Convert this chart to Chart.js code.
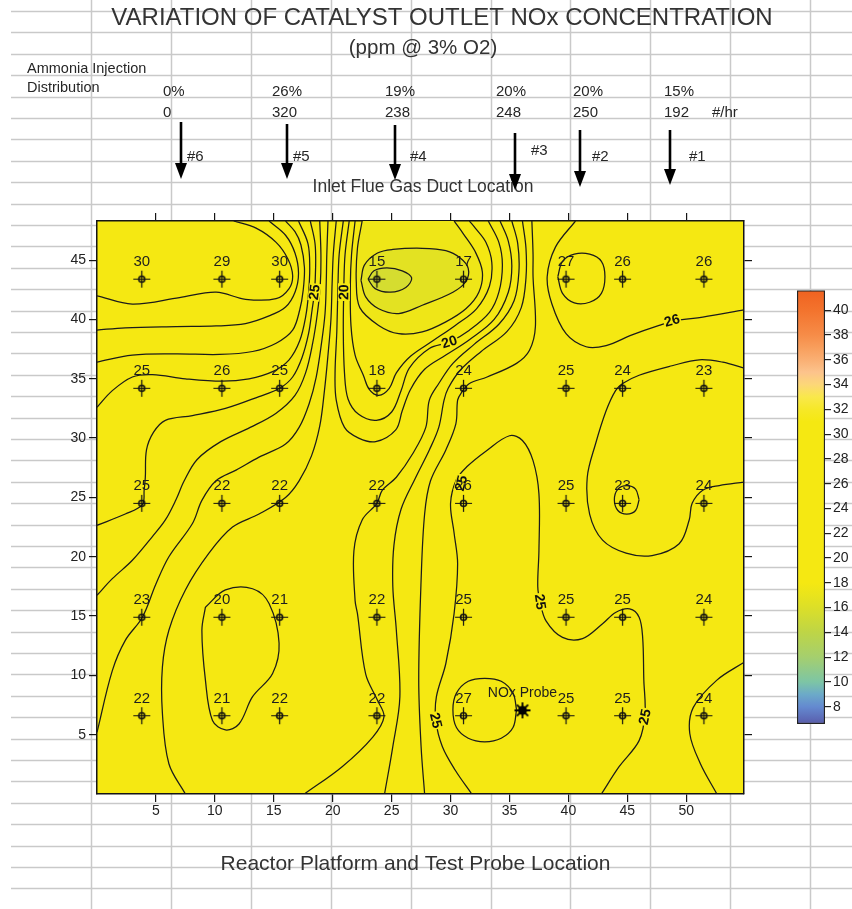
<!DOCTYPE html>
<html>
<head>
<meta charset="utf-8">
<script src="https://cdn.jsdelivr.net/npm/chart.js@4.4.1/dist/chart.umd.min.js"></script>
<style>
  html, body { margin: 0; padding: 0; background: #fff; }
  #wrap { position: relative; width: 852px; height: 909px; overflow: hidden; }
  #main { position: absolute; left: 0; top: 0; width: 852px; height: 909px; }
  #bar { position: absolute; left: 780px; top: 280px; width: 72px; height: 460px; }
</style>
</head>
<body>
<div id="wrap">
  <canvas id="main" width="852" height="909"></canvas>
  <canvas id="bar" width="72" height="460"></canvas>
</div>
<script>
// ---------- measured NOx values on the probe grid ----------
const probeX = [3.8, 10.6, 15.5, 23.75, 31.1, 39.8, 44.6, 51.5];
const probeY = [43.4, 34.2, 24.5, 14.9, 6.6];
const noxRow1 = [30, 29, 30, 15, 17, 27, 26, 26];
const noxRow2 = [25, 26, 25, 18, 24, 25, 24, 23];
const noxRow3 = [25, 22, 22, 22, 26, 25, 23, 24];
const noxRow4 = [23, 20, 21, 22, 25, 25, 25, 24];
const noxRow5 = [22, 21, 22, 22, 27, 25, 25, 24];
const noxRows = [noxRow1, noxRow2, noxRow3, noxRow4, noxRow5];
const noxProbe = [36.1, 7.05];

// ---------- axes ----------
const xRange = [0, 54.9];
const yRange = [0, 48.3];
const xTicks = [5, 10, 15, 20, 25, 30, 35, 40, 45, 50];
const yTicks = [5, 10, 15, 20, 25, 30, 35, 40, 45];
const barRange = [6.6, 41.6];
const barTicks = [8, 10, 12, 14, 16, 18, 20, 22, 24, 26, 28, 30, 32, 34, 36, 38, 40];

// ---------- ammonia injection lances ----------
const lanceNames = ['#6', '#5', '#4', '#3', '#2', '#1'];
const lancePct = ['0%', '26%', '19%', '20%', '20%', '15%'];
const lanceRate = ['0', '320', '238', '248', '250', '192'];
const lanceX = [7.1, 16.1, 25.3, 35.5, 41.0, 48.6];

// ---------- isolines (ppm), traced as x/y pairs ----------
const iso29 = [[0,42.0],[3.0,41.3],[7.0,41.85],[10.1,42.3],[12.6,41.7],[15.2,41.75],[16.3,42.6],[16.6,43.7],[16.2,45.1],[15.2,46.5],[13.5,47.7],[11.6,48.3]];
const iso28 = [[0,39.1],[2.4,39.3],[6.7,39.4],[10.1,39.45],[12.6,39.65],[14.6,40.3],[16.0,41.05],[16.8,42.3],[17.1,43.9],[16.8,45.6],[16.0,47.1],[14.6,48.3]];
const iso27a = [[0,36.4],[3.0,37.0],[6.7,37.1],[10.4,37.05],[13.2,37.3],[15.2,38.0],[16.6,39.1],[17.2,40.8],[17.5,42.5],[17.6,44.4],[17.3,46.3],[16.8,47.4],[16.0,48.3]];
const iso27b = [[39.1,43.6],[39.5,44.9],[40.5,45.5],[41.8,45.5],[42.8,44.9],[43.1,43.6],[42.8,42.2],[41.8,41.45],[40.5,41.4],[39.5,42.2],[39.1,43.6]];
const iso26a = [[0,32.6],[1.3,34.0],[3.0,35.15],[4.7,35.35],[7.5,35.0],[10.6,34.8],[12.9,35.0],[14.9,35.6],[16.3,36.6],[17.2,38.2],[17.7,40.2],[17.95,42.2],[18.05,44.4],[17.9,46.4],[17.1,48.3]];
const iso26b = [[40.6,48.3],[38.9,46.1],[38.2,43.6],[38.6,41.3],[39.8,38.8],[41.5,37.7],[43.2,37.8],[45.4,38.7],[47.7,39.5],[49.1,39.9],[51.4,40.2],[54.9,40.8]];
const iso26c = [[35.6,7.1],[35.3,8.5],[34.3,9.5],[32.9,9.75],[31.5,9.5],[30.5,8.5],[30.2,7.1],[30.5,5.6],[31.5,4.7],[32.9,4.4],[34.3,4.7],[35.3,5.6],[35.6,7.1]];
const iso25a = [[0,22.65],[2.4,23.6],[3.85,24.4],[4.0,25.6],[4.1,26.7],[4.2,29.0],[4.8,30.5],[5.8,31.5],[8.1,31.9],[10.9,32.5],[13.75,33.5],[15.5,34.2],[16.6,35.15],[17.4,36.8],[17.95,38.8],[18.25,40.8],[18.45,42.3],[18.55,44.4],[18.5,46.4],[18.1,48.3]];
const iso25b = [[31.8,0],[30.4,2.0],[29.3,4.0],[28.75,6.2],[28.8,8.2],[29.6,11.0],[30.3,15.2],[30.6,19.4],[30.3,22.0],[30.0,24.5],[30.5,26.5],[31.4,27.6],[33.0,28.9],[35.0,30.2],[36.1,29.8],[37.0,28.1],[37.5,25.3],[37.5,20.5],[37.4,17.5],[37.6,16.2],[38.1,14.6],[39.5,13.2],[41.2,13.1],[42.9,14.35],[44.0,15.3],[45.2,15.6],[46.0,14.9],[46.3,13.2],[46.4,9.6],[46.5,6.8],[46.0,4.5],[44.3,2.3],[42.8,0]];
const iso24a = [[0,16.75],[1.3,18.15],[3.0,19.7],[4.7,21.7],[5.8,23.1],[6.7,24.8],[7.4,26.4],[8.5,28.2],[10.5,29.7],[13.0,30.9],[15.2,32.1],[16.8,33.6],[17.7,35.5],[18.3,38.0],[18.7,40.5],[18.95,43.0],[19.0,45.5],[18.9,48.3]];
const iso24b = [[36.9,48.3],[37.0,45.5],[37.0,43.6],[37.2,39.4],[36.7,37.4],[35.6,36.3],[33.1,35.15],[31.6,34.6],[30.9,33.8],[30.6,33.2],[30.45,31.2],[29.6,29.0],[28.3,26.4],[27.8,23.6],[27.5,18.0],[27.3,9.6],[27.5,4.0],[27.8,0]];
const iso24c = [[54.9,35.9],[53.1,36.4],[51.1,36.6],[48.8,36.1],[46.0,35.3],[44.6,34.6],[44.0,34.0],[43.2,32.3],[42.3,29.5],[41.6,26.7],[41.8,23.6],[42.9,21.4],[44.9,20.3],[47.1,20.1],[49.4,21.1],[50.25,23.1],[50.5,24.5],[51.4,25.6],[52.8,26.0],[54.9,26.3]];
const iso24d = [[54.9,11.1],[52.6,9.6],[50.6,7.3],[50.3,5.1],[51.2,2.55],[52.6,0]];
const iso23a = [[0,5.2],[1.3,10.4],[2.4,12.95],[3.85,14.9],[5.0,17.7],[6.1,20.0],[8.1,22.8],[8.9,24.75],[10.1,26.4],[11.8,27.3],[13.75,28.4],[16.0,29.5],[17.15,30.9],[18.0,32.9],[18.6,35.15],[19.05,38.0],[19.35,40.5],[19.45,43.0],[19.5,45.5],[19.6,48.3]];
const iso23b = [[36.1,48.3],[36.4,46.0],[36.4,43.5],[36.0,41.0],[34.8,39.0],[32.6,37.3],[30.8,35.7],[29.8,34.2],[29.45,33.2],[29.0,30.9],[28.2,29.0],[27.0,26.6],[25.8,24.0],[25.2,21.0],[25.1,17.5],[25.4,13.8],[25.7,8.2],[25.1,4.0],[24.4,0]];
const iso23c = [[46.0,24.8],[45.7,25.7],[44.95,26.0],[44.2,25.7],[43.9,24.8],[44.2,23.9],[44.95,23.6],[45.7,23.9],[46.0,24.8]];
const iso22a = [[7.5,0],[6.1,2.55],[5.55,6.8],[5.55,10.7],[6.1,13.8],[7.5,17.2],[9.5,20.3],[11.5,22.5],[13.75,23.6],[16.0,25.0],[17.15,26.4],[18.2,28.5],[18.9,31.0],[19.3,34.0],[19.6,37.0],[19.85,40.0],[19.95,43.0],[20.05,45.5],[20.3,48.3]];
const iso22b = [[35.2,48.3],[35.7,46.4],[35.8,44.0],[35.4,41.6],[34.1,39.6],[32.0,37.9],[30.2,36.3],[29.0,34.6],[28.2,33.2],[27.9,30.9],[26.8,28.7],[25.4,26.7],[24.2,25.6],[23.75,24.5],[22.5,23.1],[21.8,20.5],[21.9,16.3],[22.1,15.2],[22.8,10.1],[23.8,7.9],[24.35,6.5],[23.4,4.8],[20.8,2.3],[17.6,0]];
const iso21a = [[9.2,15.75],[10.9,17.2],[13.2,17.3],[14.6,16.05],[15.45,12.7],[14.9,10.15],[13.2,8.2],[12.05,5.9],[10.9,5.4],[9.8,6.2],[9.2,9.6],[8.9,13.8],[9.2,15.75]];
const iso21b = [[20.9,48.3],[20.55,45.5],[20.45,43.0],[20.35,39.0],[20.2,35.5],[20.3,33.2],[21.0,30.9],[22.2,30.0],[23.65,29.7],[25.35,30.7],[25.9,32.3],[26.6,34.1],[27.8,35.8],[29.6,37.0],[31.6,38.3],[33.7,40.0],[34.9,42.3],[35.2,44.5],[34.9,46.6],[34.2,48.3]];
const iso20 = [[21.4,48.3],[21.05,45.5],[20.95,43.0],[20.9,39.0],[21.0,35.5],[21.3,33.3],[22.2,32.0],[23.7,31.5],[25.0,32.2],[25.8,34.0],[26.5,35.9],[28.2,37.55],[29.9,38.1],[31.6,39.1],[33.3,40.6],[34.1,42.3],[34.4,44.6],[34.1,46.5],[33.2,48.3]];
const iso19 = [[21.9,48.3],[21.6,45.5],[21.5,43.0],[21.55,39.5],[21.9,37.0],[22.6,35.3],[23.1,34.1],[23.9,33.6],[24.8,34.2],[25.4,35.5],[26.6,36.9],[28.5,38.2],[30.4,39.5],[32.2,40.9],[33.3,42.8],[33.5,44.8],[33.0,46.5],[32.1,47.7],[31.6,48.3]];
const iso18 = [[22.5,48.3],[22.1,46.0],[22.0,43.2],[22.3,41.0],[23.9,39.5],[25.6,38.8],[27.6,38.95],[29.6,39.8],[31.3,40.9],[32.4,42.3],[32.7,44.0],[32.1,45.7],[31.1,47.2],[30.3,48.3]];
const iso17 = [[22.4,43.3],[22.7,44.6],[23.8,45.6],[25.1,45.9],[27.6,46.0],[29.6,45.8],[30.8,45.2],[31.5,44.3],[31.3,43.2],[30.2,42.3],[27.6,41.2],[25.6,40.5],[23.9,40.9],[22.8,41.9],[22.4,43.3]];
const iso16 = [[23.0,43.4],[23.5,44.1],[24.6,44.35],[25.9,44.1],[26.7,43.5],[26.2,42.7],[24.9,42.3],[23.6,42.6],[23.0,43.4]];

// level of every traced line; closed lows are shaded from the colour scale
const isolines = [
  { level: 29, pts: iso29 }, { level: 28, pts: iso28 },
  { level: 27, pts: iso27a }, { level: 27, pts: iso27b },
  { level: 26, pts: iso26a }, { level: 26, pts: iso26b }, { level: 26, pts: iso26c },
  { level: 25, pts: iso25a }, { level: 25, pts: iso25b },
  { level: 24, pts: iso24a }, { level: 24, pts: iso24b }, { level: 24, pts: iso24c }, { level: 24, pts: iso24d },
  { level: 23, pts: iso23a }, { level: 23, pts: iso23b }, { level: 23, pts: iso23c },
  { level: 22, pts: iso22a }, { level: 22, pts: iso22b },
  { level: 21, pts: iso21a }, { level: 21, pts: iso21b },
  { level: 20, pts: iso20 }, { level: 19, pts: iso19 },
  { level: 18, pts: iso18, shadeLow: true },
  { level: 17, pts: iso17, shadeLow: true },
  { level: 16, pts: iso16, shadeLow: true }
];
// inline isoline labels: x, y, level
const isoLabels = [[18.45, 42.3, 25], [20.95, 42.3, 20], [29.9, 38.1, 20], [48.8, 39.9, 26], [30.9, 26.2, 25], [37.6, 16.2, 25], [28.75, 6.2, 25], [46.5, 6.5, 25]];

// ---------- colour scale ----------
const colorStops = [
  [6.6, [88, 90, 165]], [7, [92, 105, 182]], [8, [100, 138, 208]], [9, [108, 170, 200]],
  [10, [125, 197, 165]], [12, [165, 207, 110]], [14, [190, 213, 70]], [15, [205, 218, 55]],
  [16, [220, 223, 40]], [17, [233, 228, 28]], [18, [245, 232, 18]], [31, [245, 232, 18]],
  [32, [246, 232, 40]], [33, [249, 232, 75]], [34, [252, 215, 120]], [35, [252, 195, 140]],
  [36, [250, 175, 115]], [37, [248, 158, 92]], [38, [246, 140, 72]], [40, [243, 115, 45]],
  [41.6, [240, 98, 32]]
];
function colorAt(v) {
  for (let i = 1; i < colorStops.length; i++) {
    const [v1, c1] = colorStops[i];
    const [v0, c0] = colorStops[i - 1];
    if (v <= v1) {
      const t = (v - v0) / (v1 - v0);
      const c = c0.map((a, k) => Math.round(a + (c1[k] - a) * t));
      return `rgb(${c[0]},${c[1]},${c[2]})`;
    }
  }
  const c = colorStops[colorStops.length - 1][1];
  return `rgb(${c[0]},${c[1]},${c[2]})`;
}

// ---------- texts ----------
const FONT = "'Liberation Sans', Arial, Helvetica, sans-serif";
const titleText = 'VARIATION OF CATALYST OUTLET NOx CONCENTRATION';
const subtitleText = '(ppm @ 3% O2)';
const injectionText = ['Ammonia Injection', 'Distribution'];
const ductText = 'Inlet Flue Gas Duct Location';
const platformText = 'Reactor Platform and Test Probe Location';
const probeText = 'NOx Probe';
const rateUnit = '#/hr';

// ---------- page layout (pixels) ----------
const sheet = { left: 11, top: 11, rowH: 21.4, colStart: 91, colW: 79.9, color: '#c9c9c9' };
const plotYellow = colorAt(24);
const pctLeft = [163, 272, 385, 496, 573, 664];
const arrowTop = [122, 124, 125, 133, 130, 130];
const arrowTip = [179, 179, 180, 190, 187, 185];
const lanceLabelLeft = [187, 293, 410, 531, 592, 689];
const lanceLabelY = [157, 157, 157, 151, 157, 157];

Chart.defaults.font.family = FONT;
Chart.defaults.color = '#222';

function probeMarker() {
  const cv = document.createElement('canvas');
  cv.width = 19; cv.height = 19;
  const g = cv.getContext('2d');
  g.strokeStyle = '#111';
  g.lineWidth = 1.2;
  g.beginPath();
  g.moveTo(1, 9.5); g.lineTo(18, 9.5);
  g.moveTo(9.5, 1); g.lineTo(9.5, 18);
  g.stroke();
  g.lineWidth = 1.6;
  g.beginPath(); g.arc(9.5, 9.5, 3.0, 0, Math.PI * 2); g.stroke();
  return cv;
}
function starMarker() {
  const cv = document.createElement('canvas');
  cv.width = 18; cv.height = 18;
  const g = cv.getContext('2d');
  g.strokeStyle = '#000'; g.fillStyle = '#000'; g.lineWidth = 1.8;
  g.beginPath();
  for (let k = 0; k < 8; k++) {
    const a = k * Math.PI / 4;
    g.moveTo(9, 9); g.lineTo(9 + 8 * Math.cos(a), 9 + 8 * Math.sin(a));
  }
  g.stroke();
  g.beginPath(); g.arc(9, 9, 4.5, 0, Math.PI * 2); g.fill();
  return cv;
}

const probePoints = [];
const probeValues = [];
noxRows.forEach((row, r) => row.forEach((v, c) => {
  probePoints.push({ x: probeX[c], y: probeY[r] });
  probeValues.push(v);
}));

// lower "order" is drawn later (on top); outer low-value shells are drawn first
const datasets = [
  { label: 'probe', data: probePoints, pointStyle: probeMarker(), pointRadius: 9, showLine: false, order: 0 },
  { label: 'nox probe', data: [{ x: noxProbe[0], y: noxProbe[1] }], pointStyle: starMarker(), pointRadius: 9, showLine: false, order: 0 }
];
isolines.forEach((line) => {
  datasets.push({
    label: 'iso' + line.level,
    data: line.pts.map(([x, y]) => ({ x, y })),
    showLine: true,
    pointRadius: 0,
    borderColor: '#1b1b1b',
    borderWidth: 1.25,
    tension: 0.35,
    fill: line.shadeLow ? 'shape' : false,
    backgroundColor: line.shadeLow ? colorAt(line.level - 0.5) : 'transparent',
    order: line.shadeLow ? 100 + line.level : 10
  });
});

function toPx(chart, x, y) {
  return [chart.scales.x.getPixelForValue(x), chart.scales.y.getPixelForValue(y)];
}

const sheetPlugin = {
  id: 'sheet',
  beforeDraw(chart) {
    const c = chart.ctx, a = chart.chartArea;
    c.save();
    c.fillStyle = '#fff';
    c.fillRect(0, 0, chart.width, chart.height);
    c.strokeStyle = sheet.color;
    c.lineWidth = 1.5;
    c.beginPath();
    for (let y = sheet.top; y < chart.height; y += sheet.rowH) {
      c.moveTo(sheet.left, Math.round(y) + 0.5); c.lineTo(chart.width, Math.round(y) + 0.5);
    }
    for (let x = sheet.colStart; x < chart.width; x += sheet.colW) {
      c.moveTo(Math.round(x) + 0.5, 0); c.lineTo(Math.round(x) + 0.5, chart.height);
    }
    c.stroke();
    c.fillStyle = plotYellow;
    c.fillRect(a.left, a.top, a.right - a.left, a.bottom - a.top);
    c.restore();
  }
};

const labelPlugin = {
  id: 'labels',
  afterDatasetsDraw(chart) {
    const c = chart.ctx;
    c.save();
    // isoline labels, turned along their line
    c.font = `bold 14px ${FONT}`;
    c.textAlign = 'center';
    c.textBaseline = 'middle';
    isoLabels.forEach(([lx, ly, lev]) => {
      const [px, py] = toPx(chart, lx, ly);
      let best = null, bestD = Infinity;
      isolines.filter(l => l.level === lev).forEach(l => {
        for (let i = 0; i < l.pts.length - 1; i++) {
          const [ax, ay] = toPx(chart, l.pts[i][0], l.pts[i][1]);
          const [bx, by] = toPx(chart, l.pts[i + 1][0], l.pts[i + 1][1]);
          const dx = bx - ax, dy = by - ay;
          const t = Math.max(0, Math.min(1, ((px - ax) * dx + (py - ay) * dy) / (dx * dx + dy * dy)));
          const d = (ax + t * dx - px) ** 2 + (ay + t * dy - py) ** 2;
          if (d < bestD) { bestD = d; best = [dx, dy]; }
        }
      });
      let ang = Math.atan2(best[1], best[0]);
      if (ang > Math.PI / 2) ang -= Math.PI;
      if (ang < -Math.PI / 2) ang += Math.PI;
      c.save();
      c.translate(px, py);
      c.rotate(ang);
      const w = c.measureText(String(lev)).width;
      c.fillStyle = plotYellow;
      c.fillRect(-w / 2 - 1, -6, w + 2, 12);
      c.fillStyle = '#111';
      c.fillText(String(lev), 0, 0.5);
      c.restore();
    });
    // probe readings
    c.font = `15px ${FONT}`;
    c.fillStyle = '#1e1e1e';
    probePoints.forEach((p, i) => {
      const [px, py] = toPx(chart, p.x, p.y);
      c.fillText(String(probeValues[i]), px, py - 17);
    });
    const [qx, qy] = toPx(chart, noxProbe[0], noxProbe[1]);
    c.font = `14px ${FONT}`;
    c.fillText(probeText, qx, qy - 17);
    c.restore();
  }
};

const headerPlugin = {
  id: 'header',
  afterDraw(chart) {
    const c = chart.ctx;
    c.save();
    c.fillStyle = '#333';
    c.textBaseline = 'middle';
    c.textAlign = 'center';
    c.font = `24px ${FONT}`;
    c.fillText(titleText, 442, 18.5);
    c.font = `20.5px ${FONT}`;
    c.fillText(subtitleText, 423, 48.5);
    c.font = `17.5px ${FONT}`;
    c.fillText(ductText, 423, 187);
    c.font = `21px ${FONT}`;
    c.fillText(platformText, 415.5, 864);
    c.textAlign = 'left';
    c.fillStyle = '#262626';
    c.font = `14.5px ${FONT}`;
    c.fillText(injectionText[0], 27, 69);
    c.fillText(injectionText[1], 27, 88);
    c.font = `15px ${FONT}`;
    lanceNames.forEach((name, i) => {
      c.fillText(lancePct[i], pctLeft[i], 92);
      c.fillText(lanceRate[i], pctLeft[i], 113);
      c.fillText(name, lanceLabelLeft[i], lanceLabelY[i]);
      const ax = Math.round(chart.scales.x.getPixelForValue(lanceX[i]));
      c.strokeStyle = '#000';
      c.lineWidth = 2.6;
      c.beginPath();
      c.moveTo(ax, arrowTop[i]);
      c.lineTo(ax, arrowTip[i] - 12);
      c.stroke();
      c.fillStyle = '#000';
      c.beginPath();
      c.moveTo(ax - 6, arrowTip[i] - 16);
      c.lineTo(ax + 6, arrowTip[i] - 16);
      c.lineTo(ax, arrowTip[i]);
      c.closePath();
      c.fill();
      c.fillStyle = '#262626';
    });
    c.fillText(rateUnit, 712, 113);
    c.restore();
  }
};

const edge = { color: '#151515', width: 1.5 };
function axisCommon(pos, ticks, range, size, showLabels) {
  const horizontal = pos === 'top' || pos === 'bottom';
  return {
    type: 'linear',
    position: pos,
    min: range[0],
    max: range[1],
    afterBuildTicks: (a) => { a.ticks = ticks.map(v => ({ value: v })); },
    afterFit: (s) => { if (horizontal) s.height = size; else s.width = size; },
    grid: { drawOnChartArea: false, drawTicks: true, tickLength: 8, color: '#151515', lineWidth: 1.2 },
    border: { display: true, color: edge.color, width: edge.width },
    ticks: { display: showLabels, padding: horizontal ? 1 : 3, font: { size: 14, family: FONT }, color: '#222', maxRotation: 0, autoSkip: false }
  };
}

new Chart(document.getElementById('main'), {
  type: 'scatter',
  data: { datasets },
  options: {
    responsive: false,
    animation: false,
    events: [],
    layout: { padding: 0 },
    plugins: { legend: { display: false }, tooltip: { enabled: false } },
    scales: {
      x: axisCommon('bottom', xTicks, xRange, 115, true),
      x2: axisCommon('top', xTicks, xRange, 221, false),
      y: axisCommon('left', yTicks, yRange, 97, true),
      y2: axisCommon('right', yTicks, yRange, 108, false)
    }
  },
  plugins: [sheetPlugin, labelPlugin, headerPlugin]
});

// ---------- colour scale bar ----------
function barGradient(context) {
  const chart = context.chart;
  const { ctx, chartArea, scales } = chart;
  if (!chartArea) return colorAt(24);
  const y0 = scales.y.getPixelForValue(barRange[0]);
  const y1 = scales.y.getPixelForValue(barRange[1]);
  const g = ctx.createLinearGradient(0, y0, 0, y1);
  colorStops.forEach(([v, c]) => {
    g.addColorStop((v - barRange[0]) / (barRange[1] - barRange[0]), `rgb(${c[0]},${c[1]},${c[2]})`);
  });
  return g;
}

new Chart(document.getElementById('bar'), {
  type: 'bar',
  data: {
    labels: [''],
    datasets: [{
      data: [barRange],
      backgroundColor: barGradient,
      borderColor: '#222',
      borderWidth: 1.5,
      borderSkipped: false,
      barPercentage: 1,
      categoryPercentage: 1
    }]
  },
  options: {
    responsive: false,
    animation: false,
    events: [],
    layout: { padding: { left: 17, top: 10, bottom: 16, right: 0 } },
    plugins: { legend: { display: false }, tooltip: { enabled: false } },
    scales: {
      x: { display: false },
      y: {
        position: 'right',
        min: barRange[0],
        max: barRange[1],
        afterBuildTicks: (a) => { a.ticks = barTicks.map(v => ({ value: v })); },
        afterFit: (s) => { s.width = 27; },
        grid: { drawOnChartArea: false, tickLength: 6, color: '#222', lineWidth: 1.2 },
        border: { display: false },
        ticks: { padding: 2, font: { size: 14, family: FONT }, color: '#222' }
      }
    }
  }
});
</script>
</body>
</html>
